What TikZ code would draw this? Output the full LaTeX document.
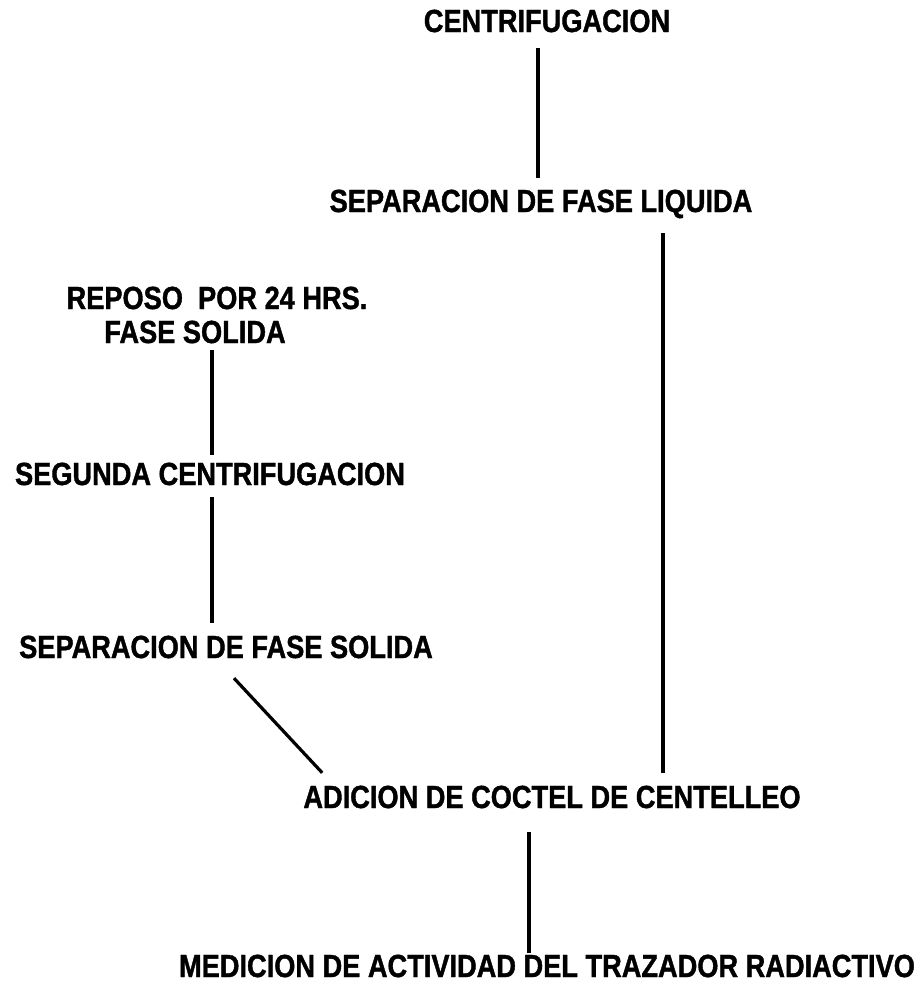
\documentclass[tikz,border=0pt]{standalone}
\usepackage{fontspec}
\newfontfamily\flowfont[FakeStretch=0.85,BoldFeatures={FakeBold=1.2}]{Liberation Sans}
\begin{document}
\begin{tikzpicture}[x=1pt,y=-1pt,
  etapa/.style={anchor=base,inner sep=0pt,text height=23pt,text depth=0pt,
    font=\flowfont\bfseries\fontsize{32pt}{36pt}\selectfont},
  enlace/.style={line width=3.2pt}]
\fill[white] (0,0) rectangle (920,986);
\useasboundingbox (0,0) rectangle (920,986);
% etapas
\node[etapa] (centrif) at (547,32) {CENTRIFUGACION};
\node[etapa] (sepliq) at (541,212) {SEPARACION DE FASE LIQUIDA};
\node[etapa] (reposo) at (217,309) {REPOSO\ \ POR 24 HRS.};
\node[etapa] (fasesol) at (195,343) {FASE SOLIDA};
\node[etapa] (segunda) at (210,485) {SEGUNDA CENTRIFUGACION};
\node[etapa] (sepsol) at (226,658) {SEPARACION DE FASE SOLIDA};
\node[etapa] (adicion) at (552,808) {ADICION DE COCTEL DE CENTELLEO};
\node[etapa] (medicion) at (547,977) {MEDICION DE ACTIVIDAD DEL TRAZADOR RADIACTIVO};
% enlaces
\draw[enlace] ([xshift=-9pt,yshift=-16pt]centrif.south) -- ([xshift=-3pt,yshift=11pt]sepliq.north);
\draw[enlace] ([xshift=122pt,yshift=-21pt]sepliq.south) -- ([xshift=111pt,yshift=12pt]adicion.north);
\draw[enlace] ([xshift=17pt,yshift=-7pt]fasesol.south) -- ([xshift=2pt,yshift=7pt]segunda.north);
\draw[enlace] ([xshift=2pt,yshift=-12pt]segunda.south) -- ([xshift=-14pt,yshift=12pt]sepsol.north);
\draw[enlace] ([xshift=8pt,yshift=-20pt]sepsol.south) -- ([xshift=19pt,yshift=12pt]adicion.north west);
\draw[enlace] ([xshift=-23pt,yshift=-24pt]adicion.south) -- ([xshift=-18pt,yshift=1pt]medicion.north);
\end{tikzpicture}
\end{document}
